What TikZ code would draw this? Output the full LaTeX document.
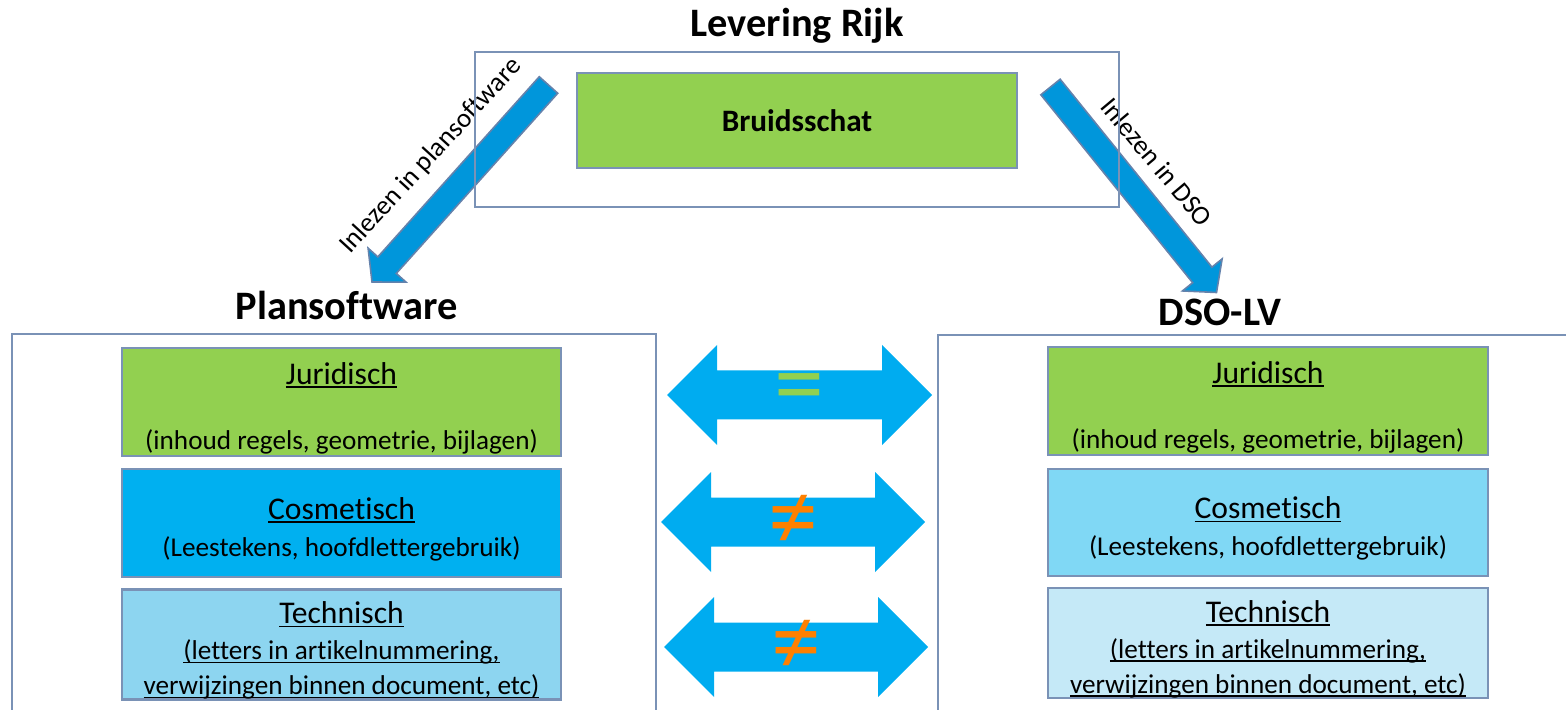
\documentclass[tikz,border=0pt]{standalone}
\usepackage{fontspec}
\setmainfont{Carlito}[Ligatures=NoCommon]
\usetikzlibrary{calc}

\definecolor{rand}{RGB}{122,146,182}
\definecolor{groen}{RGB}{146,208,80}
\definecolor{felblauw}{RGB}{0,176,240}
\definecolor{midblauw}{RGB}{141,213,240}
\definecolor{zachtblauw}{RGB}{128,216,245}
\definecolor{bleekblauw}{RGB}{197,233,247}
\definecolor{pijlblauw}{RGB}{0,150,219}
\definecolor{pijlrand}{RGB}{100,130,172}
\definecolor{dubbelblauw}{RGB}{0,172,240}
\definecolor{oranje}{RGB}{255,128,0}

% onderstreping dicht onder de basislijn
\newcommand{\onder}[1]{\mbox{\setbox0=\hbox{#1}\rlap{\rule[-1.9pt]{\wd0}{0.75pt}}\box0}}
% kopregel in een vak, met wat extra ruimte erboven
\newcommand{\kopregel}[1]{{\fontsize{15.8}{19}\selectfont\rule{0pt}{17pt}\onder{#1}}}

% brede pijl van staart (#1) naar punt (#2)
\newcommand{\dikkepijl}[2]{
  \coordinate (nek) at ($(#2)!11.3pt!(#1)$);
  \draw[schuin] ($(#1)!6.2pt!90:(#2)$) -- ($(nek)!6.2pt!90:(#2)$)
    -- ($(nek)!12.75pt!90:(#2)$) -- (#2) -- ($(nek)!12.75pt!-90:(#2)$)
    -- ($(nek)!6.2pt!-90:(#2)$) -- ($(#1)!6.2pt!-90:(#2)$) -- cycle;
}
% dubbele pijl tussen linkerpunt (#1) en rechterpunt (#2)
\newcommand{\tweepijl}[2]{
  \fill[dubbel] (#1) -- ($(#1)+(50,-50)$) -- ($(#1)+(50,-24.5)$)
    -- ($(#2)+(-50,-24.5)$) -- ($(#2)+(-50,-50)$) -- (#2)
    -- ($(#2)+(-50,50)$) -- ($(#2)+(-50,24.5)$) -- ($(#1)+(50,24.5)$)
    -- ($(#1)+(50,50)$) -- cycle;
}

\begin{document}
\begin{tikzpicture}[
    x=0.5pt, y=-0.5pt,
    kader/.style={draw=rand, line width=0.8pt, inner sep=0pt},
    vak/.style={draw=rand, line width=1.2pt, inner sep=0pt, align=center,
        minimum width=219.75pt, minimum height=53.75pt,
        font=\fontsize{13.6}{17.5}\selectfont},
    kop/.style={font=\fontsize{20.2}{24}\selectfont\bfseries, anchor=base, inner sep=0pt},
    pijltekst/.style={font=\fontsize{13.5}{16}\selectfont, inner sep=0pt},
    schuin/.style={fill=pijlblauw, draw=pijlrand, line width=0.8pt},
    dubbel/.style={fill=dubbelblauw},
    teken/.style={font=\fontsize{50}{50}\selectfont, inner sep=0pt},
  ]
  \useasboundingbox (0,0) rectangle (1566,710);
  \clip (0,0) rectangle (1566,710);

  \node[kop] (hrijk) at (797,37) {Levering Rijk};
  \node[kop] (hplan) at (346.5,320) {Plansoftware};
  \node[kop] (hdso) at (1220,326) {DSO-LV};

  % buitenkaders
  \node[kader, minimum width=322pt, minimum height=213pt] (plan) at (334,547) {};
  \node[kader, minimum width=331pt, minimum height=212.5pt] (dso) at (1269,547.5) {};

  % inlezen
  \coordinate (lstaart) at (548.5,85);
  \coordinate (lpunt) at (372,282);
  \coordinate (rstaart) at (1050.5,87);
  \coordinate (rpunt) at (1216.5,292.5);
  \dikkepijl{lstaart}{lpunt}
  \dikkepijl{rstaart}{rpunt}
  \node[pijltekst, rotate=47.5] (lplan) at (431,156) {Inlezen in plansoftware};
  \node[pijltekst, rotate=-50] (ldso) at (1157,162) {Inlezen in DSO};

  \node[kader, minimum width=322pt, minimum height=77.5pt] (rijk) at (797,129.5) {};
  \node[kader, line width=1.2pt, fill=groen, minimum width=220pt, minimum height=47.5pt,
      font=\fontsize{15.6}{19}\selectfont\bfseries] (bruid) at (797,120.5) {Bruidsschat};

  % plansoftware
  \node[vak, fill=groen] (pjur) at (341.5,402)
    {\kopregel{Juridisch}\\[15pt](inhoud regels, geometrie, bijlagen)};
  \node[vak, fill=felblauw] (pcos) at (341.5,523)
    {\kopregel{Cosmetisch}\\[1pt](Leestekens, hoofdlettergebruik)};
  \node[vak, fill=midblauw] (ptec) at (341.5,644.5)
    {\kopregel{Technisch}\\[0.5pt]\onder{(letters in artikelnummering,}\\
     \onder{verwijzingen binnen document, etc)}};

  % DSO-LV
  \node[vak, fill=groen] (djur) at (1268,401)
    {\kopregel{Juridisch}\\[15pt](inhoud regels, geometrie, bijlagen)};
  \node[vak, fill=zachtblauw] (dcos) at (1268,522.5)
    {\kopregel{Cosmetisch}\\[1pt](Leestekens, hoofdlettergebruik)};
  \node[vak, fill=bleekblauw] (dtec) at (1268,643)
    {\kopregel{Technisch}\\[0.5pt]\onder{(letters in artikelnummering,}\\
     \onder{verwijzingen binnen document, etc)}};

  % vergelijking
  \foreach \n/\xl/\xr/\y/\s/\c in {1/667/932/395/=/groen, 2/661/925/522/≠/oranje, 3/664/928/647/≠/oranje} {
      \coordinate (vl\n) at (\xl,\y);
      \coordinate (vr\n) at (\xr,\y);
      \tweepijl{vl\n}{vr\n}
      \node[teken, text=\c] (tk\n) at ($(vl\n)!0.5!(vr\n)$) {\s};
    }

\end{tikzpicture}
\end{document}
